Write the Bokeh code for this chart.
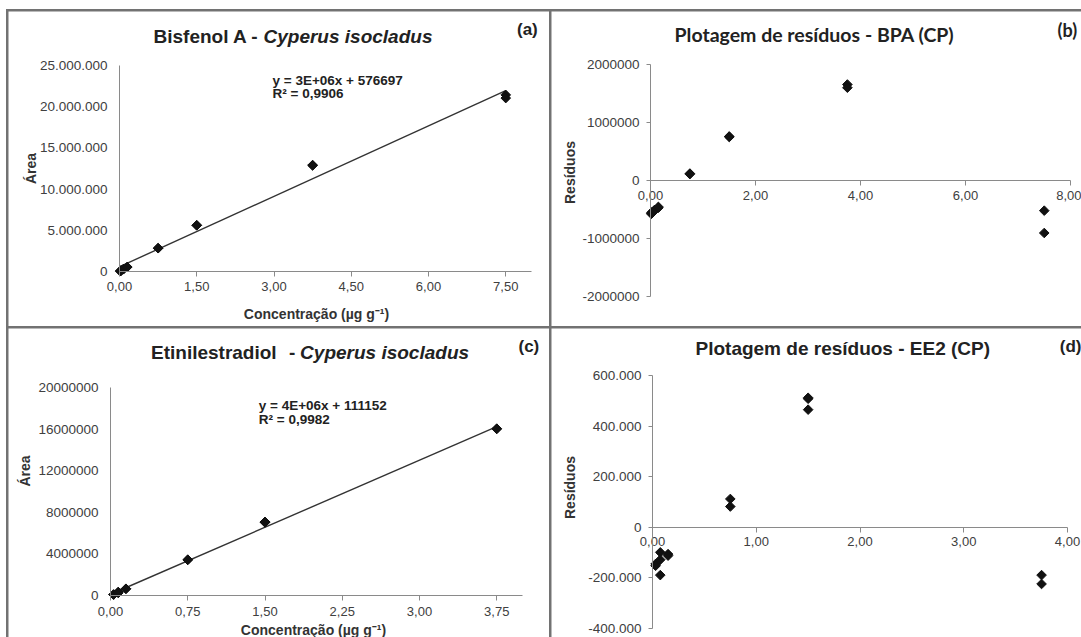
import numpy as np
from bokeh.plotting import figure
from bokeh.layouts import row, column
from bokeh.models import Label, Range1d
from bokeh.embed import file_html
from bokeh.resources import INLINE

ARIAL = "Liberation Sans"
CALIBRI = "Lato"
TXT = "#222222"
TICK = "#404040"
AXIS = "#8a8a8a"

# ---------------- data ----------------
BPA_X = [0.015, 0.015, 0.03, 0.03, 0.075, 0.075, 0.15, 0.15, 0.75, 0.75, 1.5, 1.5, 3.75, 3.75, 7.5, 7.5]
BPA_AREA = [45000, 60000, 107000, 117000, 270000, 280000, 534000, 549000,
            2834000, 2824000, 5612000, 5602000, 12919000, 12864000, 21432000, 21047000]
BPA_RESID = [-575000, -560000, -555000, -545000, -520000, -510000, -470000, -455000,
             120000, 110000, 760000, 750000, 1655000, 1600000, -520000, -905000]
BPA_SLOPE = 2.85e6
BPA_INTERCEPT = 576697

EE2_X = [0.03, 0.03, 0.075, 0.075, 0.075, 0.15, 0.15, 0.75, 0.75, 1.5, 1.5, 1.5, 3.75, 3.75]
EE2_AREA = [95000, 88000, 335000, 306000, 245000, 650000, 644000,
            3448000, 3418000, 7073000, 7069000, 7026000, 16047000, 16012000]
EE2_RESID = [-145000, -152000, -99000, -128000, -189000, -106000, -112000,
             112000, 82000, 512000, 508000, 465000, -189000, -224000]
EE2_SLOPE = 4.3e6
EE2_INTERCEPT = 111152

A_XTICKS = [0, 1.5, 3, 4.5, 6, 7.5]
A_XLABELS = ["0,00", "1,50", "3,00", "4,50", "6,00", "7,50"]
A_YTICKS = [0, 5000000, 10000000, 15000000, 20000000, 25000000]
A_YLABELS = ["0", "5.000.000", "10.000.000", "15.000.000", "20.000.000", "25.000.000"]

B_XTICKS = [0, 2, 4, 6, 8]
B_XLABELS = ["0,00", "2,00", "4,00", "6,00", "8,00"]
B_YTICKS = [-2000000, -1000000, 0, 1000000, 2000000]
B_YLABELS = ["-2000000", "-1000000", "0", "1000000", "2000000"]

C_XTICKS = [0, 0.75, 1.5, 2.25, 3, 3.75]
C_XLABELS = ["0,00", "0,75", "1,50", "2,25", "3,00", "3,75"]
C_YTICKS = [0, 4000000, 8000000, 12000000, 16000000, 20000000]
C_YLABELS = ["0", "4000000", "8000000", "12000000", "16000000", "20000000"]

D_XTICKS = [0, 1, 2, 3, 4]
D_XLABELS = ["0,00", "1,00", "2,00", "3,00", "4,00"]
D_YTICKS = [-400000, -200000, 0, 200000, 400000, 600000]
D_YLABELS = ["-400.000", "-200.000", "0", "200.000", "400.000", "600.000"]

# geometry: origin x, origin y, canvas w, h, plot-area offsets L, R, T, B, axis x bounds, axis y bounds
GA = (8, 11, 541, 315, 111, 18, 54, 55, (0, 8), (0, 25e6))
GB = (551, 11, 530, 315, 99, 11, 53, 30, (0, 8), (-2e6, 2e6))
GC = (8, 328, 541, 309, 102, 27, 59, 42, (0, 4), (0, 2e7))
GD = (551, 328, 530, 309, 101, 14, 47, 9, (0, 4), (-4e5, 6e5))


def key(t):
    return int(t) if float(t) == int(t) else t


def make(g):
    ox, oy, cw, ch, L, R, T, B, xr, yr = g
    W = cw - L - R
    H = ch - T - B
    dx = (xr[1] - xr[0]) / W
    dy = (yr[1] - yr[0]) / H
    p = figure(width=cw, height=ch,
               x_range=Range1d(xr[0] - L * dx, xr[1] + R * dx),
               y_range=Range1d(yr[0] - B * dy, yr[1] + T * dy),
               output_backend="svg", toolbar_location=None, title=None,
               min_border_left=0, min_border_right=0, min_border_top=0, min_border_bottom=0)
    p.grid.visible = False
    p.outline_line_color = None
    p.background_fill_color = "white"
    p.border_fill_color = "white"
    p.xaxis.fixed_location = 0
    p.yaxis.fixed_location = 0
    p.xaxis.bounds = xr
    p.yaxis.bounds = yr
    p.axis.axis_line_color = AXIS
    p.axis.major_tick_line_color = AXIS
    p.axis.minor_tick_line_color = None
    p.axis.major_tick_in = 0
    p.axis.major_label_text_font = ARIAL
    p.axis.major_label_text_color = TICK
    p.xaxis.major_label_text_font_size = "13px"
    p.yaxis.major_label_text_font_size = "13.5px"
    p.margin = (2, 0, 0, 2)
    return p


def ticks(p, xt, xl, yt, yl):
    p.xaxis.ticker = xt
    p.xaxis.major_label_overrides = {key(t): s for t, s in zip(xt, xl)}
    p.yaxis.ticker = yt
    p.yaxis.major_label_overrides = {key(t): s for t, s in zip(yt, yl)}


def put(p, g, X, Y, text, size, style="bold", font=ARIAL, color=TXT, align="left", angle=0.0):
    """Place a text whose vertical middle is at picture pixel Y."""
    ox, oy, cw, ch, L, R, T, B, xr, yr = g
    W = cw - L - R
    H = ch - T - B
    x = xr[0] + (X - ox - L) / W * (xr[1] - xr[0])
    y = yr[0] + (oy + ch - B - Y) / H * (yr[1] - yr[0])
    p.add_layout(Label(x=x, y=y, text=text, text_font=font, text_font_size=size,
                       text_font_style=style, text_color=color, text_align=align,
                       text_baseline="middle", angle=angle))


def markers(p, x, y):
    p.scatter(x, y, marker="square", angle=np.pi / 4, size=6.8,
              fill_color="#111111", line_color="#111111")


AX_C = "#333333"

# ---------------- (a) ----------------
pa = make(GA)
ticks(pa, A_XTICKS, A_XLABELS, A_YTICKS, A_YLABELS)
pa.yaxis.major_tick_out = 0
pa.yaxis.major_label_standoff = 12
pa.xaxis.major_tick_out = 5
pa.xaxis.major_label_standoff = 5
xa = np.array([min(BPA_X), max(BPA_X)])
pa.line(xa, BPA_INTERCEPT + BPA_SLOPE * xa, line_color="#333333", line_width=1.4)
markers(pa, BPA_X, BPA_AREA)
put(pa, GA, 153, 36, "Bisfenol A -", "19px")
put(pa, GA, 263, 36, "Cyperus isocladus", "19px", style="bold italic")
put(pa, GA, 516.5, 29, "(a)", "17px")
put(pa, GA, 272, 80, "y = 3E+06x + 576697", "13.5px")
put(pa, GA, 272, 93, "R² = 0,9906", "13.5px")
put(pa, GA, 316, 313, "Concentração (µg g⁻¹)", "14px", color=AX_C, align="center")
put(pa, GA, 30.3, 168, "Área", "14px", color=AX_C, align="center", angle=np.pi / 2)

# ---------------- (b) ----------------
pb = make(GB)
ticks(pb, B_XTICKS, B_XLABELS, B_YTICKS, B_YLABELS)
pb.yaxis.major_tick_out = 4
pb.yaxis.major_label_standoff = 7
pb.xaxis.major_tick_out = 5
pb.xaxis.major_label_standoff = 5
markers(pb, BPA_X, BPA_RESID)
put(pb, GB, 674, 34, "Plotagem de resíduos - BPA (CP)", "19.5px", font=CALIBRI)
put(pb, GB, 1057, 29, "(b)", "18px", font=CALIBRI)
put(pb, GB, 569.3, 172, "Resíduos", "14px", color=AX_C, align="center", angle=np.pi / 2)

# ---------------- (c) ----------------
pc = make(GC)
ticks(pc, C_XTICKS, C_XLABELS, C_YTICKS, C_YLABELS)
pc.yaxis.major_tick_out = 0
pc.yaxis.major_label_standoff = 12
pc.xaxis.major_tick_out = 5
pc.xaxis.major_label_standoff = 6
xc = np.array([min(EE2_X), max(EE2_X)])
pc.line(xc, EE2_INTERCEPT + EE2_SLOPE * xc, line_color="#333333", line_width=1.4)
markers(pc, EE2_X, EE2_AREA)
put(pc, GC, 150.5, 352, "Etinilestradiol", "19px")
put(pc, GC, 288.6, 352, "-", "19px")
put(pc, GC, 299.6, 352, "Cyperus isocladus", "19px", style="bold italic")
put(pc, GC, 518, 346, "(c)", "17px")
put(pc, GC, 258.3, 405, "y = 4E+06x + 111152", "13.5px")
put(pc, GC, 258.3, 419, "R² = 0,9982", "13.5px")
put(pc, GC, 313, 629, "Concentração (µg g⁻¹)", "14px", color=AX_C, align="center")
put(pc, GC, 24.8, 470.5, "Área", "14px", color=AX_C, align="center", angle=np.pi / 2)

# ---------------- (d) ----------------
pd_ = make(GD)
ticks(pd_, D_XTICKS, D_XLABELS, D_YTICKS, D_YLABELS)
pd_.yaxis.major_tick_out = 4
pd_.yaxis.major_label_standoff = 7
pd_.xaxis.major_tick_out = 5
pd_.xaxis.major_label_standoff = 5
markers(pd_, EE2_X, EE2_RESID)
put(pd_, GD, 695, 348, "Plotagem de resíduos - EE2 (CP)", "19px")
put(pd_, GD, 1059.3, 346, "(d)", "17px")
put(pd_, GD, 569.3, 487, "Resíduos", "14px", color=AX_C, align="center", angle=np.pi / 2)

inner = column(row(pa, pb), row(pc, pd_),
               styles={"background-color": "#727272"})
inner.margin = (9, 0, 0, 6)
root = column(inner)

open("out.html", "w").write(file_html(root, INLINE, "Curvas analíticas"))
